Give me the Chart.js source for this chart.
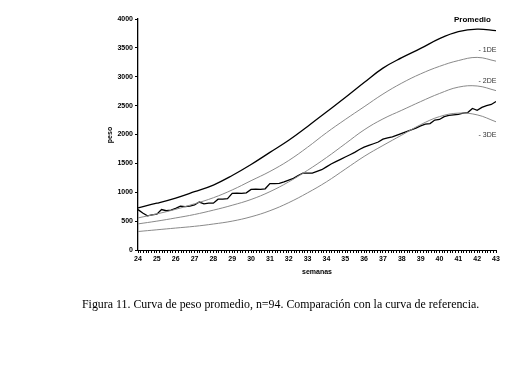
<!DOCTYPE html>
<html>
<head>
<meta charset="utf-8">
<script src="https://cdn.jsdelivr.net/npm/chart.js@4"></script>
<style>
  html, body { margin: 0; padding: 0; background: #fff; }
  #wrap { position: relative; width: 514px; height: 376px; }
  #caption {
    position: absolute; left: 0; top: 297px; width: 560px;
    font-family: "Liberation Serif", "Times New Roman", serif; font-size: 11.9px;
    color: #000; text-align: left; padding-left: 82px; white-space: nowrap;
  }
</style>
</head>
<body>
<div id="wrap">
  <canvas id="pesoChart" width="514" height="376"></canvas>
  <div id="caption">Figura 11. Curva de peso promedio, n=94. Comparación con la curva de referencia.</div>
</div>
<script>
// semanas de referencia
const weeks = [24, 25, 26, 27, 28, 29, 30, 31, 32, 33, 34, 35, 36, 37, 38, 39, 40, 41, 42, 43];
const promedio = [730, 810, 900, 1010, 1125, 1290, 1480, 1690, 1900, 2140, 2390, 2640, 2900, 3150, 3330, 3490, 3660, 3780, 3825, 3800];
const menos1DE = [556, 625, 705, 800, 905, 1040, 1200, 1360, 1550, 1780, 2030, 2260, 2480, 2700, 2890, 3050, 3180, 3280, 3335, 3270];
const menos2DE = [452, 500, 555, 615, 690, 775, 875, 1010, 1180, 1380, 1600, 1840, 2080, 2270, 2420, 2570, 2710, 2820, 2840, 2760];
const menos3DE = [320, 350, 380, 410, 450, 500, 575, 680, 820, 990, 1180, 1400, 1620, 1810, 1990, 2170, 2310, 2370, 2340, 2220];

// curva de la muestra (n=94), cada cuarto de semana
const sampleWeeks = [
  24, 24.25, 24.5, 24.75, 25, 25.25, 25.5, 25.75, 26, 26.25, 26.5, 26.75,
  27, 27.25, 27.5, 27.75, 28, 28.25, 28.5, 28.75, 29, 29.25, 29.5, 29.75,
  30, 30.25, 30.5, 30.75, 31, 31.25, 31.5, 31.75, 32, 32.25, 32.5, 32.75,
  33, 33.25, 33.5, 33.75, 34, 34.25, 34.5, 34.75, 35, 35.25, 35.5, 35.75,
  36, 36.25, 36.5, 36.75, 37, 37.25, 37.5, 37.75, 38, 38.25, 38.5, 38.75,
  39, 39.25, 39.5, 39.75, 40, 40.25, 40.5, 40.75, 41, 41.25, 41.5, 41.75,
  42, 42.25, 42.5, 42.75, 43
];
const sampleValues = [
  700, 640, 590, 610, 620, 700, 680, 690, 720, 760, 750, 760,
  780, 830, 800, 810, 810, 880, 880, 890, 980, 985, 980, 990,
  1050, 1055, 1050, 1060, 1150, 1150, 1155, 1180, 1210, 1240, 1290, 1330,
  1330, 1330, 1360, 1390, 1440, 1490, 1530, 1570, 1610, 1650, 1690, 1740,
  1780, 1810, 1840, 1870, 1920, 1940, 1960, 1990, 2020, 2050, 2080, 2110,
  2150, 2180, 2190, 2250, 2260, 2310, 2330, 2340, 2350, 2370, 2380, 2450,
  2420, 2470, 2500, 2520, 2570
];

const yTicks = [0, 500, 1000, 1500, 2000, 2500, 3000, 3500, 4000];

const curveLabels = [
  { text: "Promedio", x: 41.75, y: 3985, bold: true },
  { text: "- 1DE", x: 42.55, y: 3465, bold: false },
  { text: "- 2DE", x: 42.55, y: 2925, bold: false },
  { text: "- 3DE", x: 42.55, y: 1990, bold: false }
];

function toPoints(xs, ys) {
  return xs.map((x, i) => ({ x: x, y: ys[i] }));
}

const textPlugin = {
  id: "textPlugin",
  beforeDraw(chart) {
    const ctx = chart.ctx;
    ctx.save();
    ctx.fillStyle = "#fff";
    ctx.fillRect(0, 0, chart.width, chart.height);
    ctx.restore();
  },
  afterDraw(chart) {
    const ctx = chart.ctx;
    const xs = chart.scales.x;
    const ys = chart.scales.y;
    ctx.save();
    ctx.textAlign = "center";
    ctx.textBaseline = "middle";
    curveLabels.forEach(l => {
      ctx.font = (l.bold ? "bold 8px" : "7px") + " 'Liberation Sans', Arial, sans-serif";
      ctx.fillStyle = l.bold ? "#000" : "#333";
      ctx.fillText(l.text, xs.getPixelForValue(l.x), ys.getPixelForValue(l.y));
    });
    // titulos de ejes
    ctx.font = "bold 7px 'Liberation Sans', Arial, sans-serif";
    ctx.fillStyle = "#000";
    ctx.fillText("semanas", (xs.left + xs.right) / 2, 272);
    ctx.translate(110, 135);
    ctx.rotate(-Math.PI / 2);
    ctx.fillText("peso", 0, 0);
    ctx.restore();
  }
};

const chart = new Chart(document.getElementById("pesoChart"), {
  type: "line",
  data: {
    datasets: [
      { label: "Promedio", data: toPoints(weeks, promedio), borderColor: "#000", borderWidth: 1.3, tension: 0.4 },
      { label: "-1DE", data: toPoints(weeks, menos1DE), borderColor: "#8a8a8a", borderWidth: 1, tension: 0.4 },
      { label: "-2DE", data: toPoints(weeks, menos2DE), borderColor: "#8a8a8a", borderWidth: 1, tension: 0.4 },
      { label: "-3DE", data: toPoints(weeks, menos3DE), borderColor: "#8a8a8a", borderWidth: 1, tension: 0.4 },
      { label: "Muestra", data: toPoints(sampleWeeks, sampleValues), borderColor: "#000", borderWidth: 1.3, tension: 0 }
    ]
  },
  options: {
    responsive: false,
    animation: false,
    layout: { padding: { left: 0, top: 19, right: 18, bottom: 0 } },
    elements: { point: { radius: 0 } },
    plugins: { legend: { display: false }, tooltip: { enabled: false } },
    scales: {
      x: {
        type: "linear",
        min: 24,
        max: 43,
        afterBuildTicks: (axis) => {
          const t = [];
          for (let i = 0; i <= 19 * 7; i++) t.push({ value: 24 + i / 7 });
          axis.ticks = t;
        },
        afterFit: (scale) => { scale.height = 126; },
        border: { color: "#000", width: 1 },
        grid: { drawOnChartArea: false, tickLength: 3, color: "#000" },
        ticks: {
          autoSkip: false,
          maxRotation: 0,
          padding: 2,
          color: "#000",
          font: { family: "'Liberation Sans', Arial, sans-serif", size: 7, weight: "bold" },
          callback: (v) => {
            const r = Math.round(v);
            return Math.abs(v - r) < 1e-6 ? String(r) : "";
          }
        }
      },
      y: {
        min: 0,
        max: 4000,
        afterBuildTicks: (axis) => { axis.ticks = yTicks.map(v => ({ value: v })); },
        afterFit: (scale) => { scale.width = 138; },
        border: { color: "#000", width: 1.3 },
        grid: { drawOnChartArea: false, tickLength: 3, color: "#000" },
        ticks: {
          padding: 2,
          color: "#000",
          font: { family: "'Liberation Sans', Arial, sans-serif", size: 7, weight: "bold" },
          callback: (v) => String(v)
        }
      }
    }
  },
  plugins: [textPlugin]
});
</script>
</body>
</html>
